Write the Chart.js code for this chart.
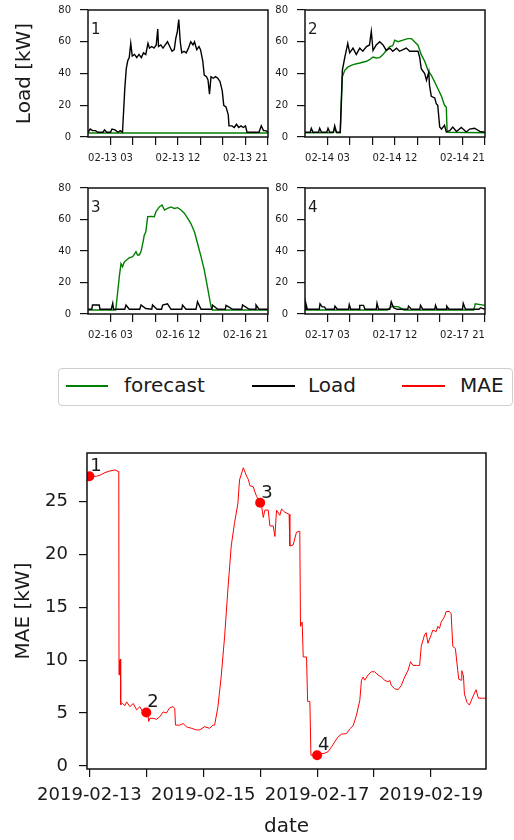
<!DOCTYPE html>
<html>
<head>
<meta charset="utf-8">
<script src="https://cdn.jsdelivr.net/npm/chart.js@4.4.0/dist/chart.umd.min.js"></script>
<style>
body{margin:0;background:#fff;font-family:'DejaVu Sans',sans-serif;}
#page{position:relative;width:514px;height:840px;overflow:hidden;background:#fff}
canvas{position:absolute}
.lg{position:absolute;font-size:20px;line-height:24px;color:#1a1a1a;white-space:nowrap}
.ln{position:absolute;height:1.5px}
#legend{position:absolute;left:58px;top:368px;width:453px;height:36px;border:1px solid #cfcfcf;border-radius:4px}
</style>
</head>
<body>
<div id="page">
<canvas id="c1" width="275" height="175" style="left:0;top:0"></canvas>
<canvas id="c2" width="244" height="175" style="left:270px;top:0"></canvas>
<canvas id="c3" width="275" height="175" style="left:0;top:176px"></canvas>
<canvas id="c4" width="244" height="175" style="left:270px;top:176px"></canvas>
<div id="legend"></div>
<div class="ln" style="left:66px;top:385px;width:42px;background:#008000"></div>
<div class="lg" style="left:124px;top:373px">forecast</div>
<div class="ln" style="left:252px;top:385px;width:43px;background:#000"></div>
<div class="lg" style="left:308px;top:373px">Load</div>
<div class="ln" style="left:402px;top:385px;width:43px;background:#ff0000"></div>
<div class="lg" style="left:460px;top:373px">MAE</div>
<canvas id="c5" width="514" height="400" style="left:0;top:440px"></canvas>
</div>
<script>
// [hour of day, kW]
var p1Load = [[0,3],[0.3,5],[0.6,4],[1.0,4],[1.3,3],[2.0,3],[2.2,4.5],[2.5,3],[3.0,3],[3.2,5],[3.6,4.5],[4.0,3],[4.3,4],[4.6,3],
  [4.9,30],[5.1,43],[5.3,48],[5.5,50],[5.7,59],[5.9,51],[6.2,52],[6.5,50],[6.8,52],[7.1,50],[7.4,53],[7.7,52],[8.0,59],[8.2,56],
  [8.5,57],[8.8,56],[9.1,58],[9.3,68],[9.4,57],[9.7,58],[10.0,56],[10.3,58],[10.6,60],[10.9,57],[11.2,54],[11.5,55],[11.7,62],
  [11.9,66],[12.1,74],[12.3,60],[12.5,53],[12.8,54],[13.1,53],[13.4,56],[13.7,60],[14.0,58],[14.2,60],[14.5,55],[14.8,57],[15.0,55],
  [15.3,48],[15.5,39],[15.8,38],[16.0,36],[16.2,27],[16.4,38],[16.7,37],[17.0,38],[17.3,37],[17.6,35],[17.9,29],[18.1,20],[18.4,19],
  [18.7,14],[18.8,7],[19.2,7],[19.5,6],[19.8,8],[20.1,6],[20.4,7],[20.7,6],[21.0,7],[21.2,3],[21.6,3],[22.0,3],[22.4,3],[22.8,3],
  [23.1,7],[23.4,4],[23.7,4],[24,3]];
var p1Fcst = [[0,2.5],[24,2.5]];

var p2Load = [[0,3],[0.7,3],[0.84,5.5],[1.07,3],[1.8,3],[1.96,5.5],[2.2,3],[2.9,3],[3.07,5.5],[3.3,3],[3.8,3],[3.96,7],[4.2,3],[4.7,3],
  [4.98,42],[5.3,50],[5.7,59],[5.96,53],[6.4,56],[6.84,52],[7.3,56],[7.7,54],[8.2,57],[8.6,58],[8.84,66.5],[9.07,54.5],[9.5,58],
  [9.96,60],[10.4,58],[10.84,54.5],[11.3,56],[11.7,54],[12.2,56],[12.6,54],[13.07,55],[13.5,56],[13.96,54],[14.4,54],[15.07,54],
  [15.3,50],[15.5,43],[15.96,40],[16.2,35.7],[16.5,41],[16.6,32.6],[16.84,25.6],[17.3,24.6],[17.5,21],[17.7,20],[17.96,6.3],[18.2,5],
  [18.6,7.4],[18.84,3.2],[19.3,4],[19.7,6.3],[20.2,3.5],[20.84,6],[21.5,3.2],[21.96,5],[22.6,5.5],[23.3,3.5],[24,3]];
var p2Fcst = [[0,2.7],[3.7,2.7],[3.96,5.5],[4.2,2.7],[4.7,2.7],[4.98,38],[5.3,42],[5.7,44],[6.4,45.6],[7.3,46.6],[8.2,47.7],[8.6,48.7],
  [9.07,50.4],[9.5,49.8],[9.96,50],[10.4,51.9],[10.84,54.6],[11.3,57],[11.7,57.5],[11.96,61],[12.4,60],[13.07,61],[13.7,62],[14.2,62],
  [14.6,60],[15.07,57.8],[15.5,51.9],[15.96,47.7],[16.4,42],[16.84,38.9],[17.3,34.6],[17.7,30.5],[18.2,25.6],[18.6,20],[18.84,18.9],
  [18.95,3],[24,2.7]];

var p3Load = [[0,3],[0.5,3],[0.6,5.7],[1.5,5.7],[1.6,3],[3.1,3],[3.3,6.8],[3.4,3],[4.9,3],[5.07,5.7],[5.5,3],[6.9,3],[7.07,5.7],[7.7,3.5],
  [8.5,3],[8.6,5.7],[9.2,3],[9.8,3],[9.96,5.7],[10.6,6.5],[11.07,3],[12.5,3],[12.6,5.7],[13.07,3],[14.4,3],[14.6,7.8],[15.07,3],
  [16.5,3],[16.6,5.7],[17.3,3],[18.3,3],[18.4,5.5],[19.3,3],[20.5,3],[20.6,5.7],[21.5,3],[22.3,3],[22.4,5.7],[22.8,3],[24,3]];
var p3Fcst = [[0,2.5],[3.7,2.5],[3.96,14],[4.2,24.8],[4.4,32],[4.6,30],[4.84,33],[5.07,34],[5.5,35.7],[5.96,36.4],[6.4,39.6],[6.6,37.5],
  [6.84,37.5],[7.07,39.6],[7.3,44.9],[7.5,50],[7.7,52],[7.96,61.8],[8.4,62],[8.84,61.8],[9.07,65],[9.5,68],[9.87,69.2],[10.2,66],
  [10.6,67],[11.07,68],[11.5,67],[11.96,67.5],[12.4,66],[12.84,64],[13.3,60.7],[13.7,57.6],[14.2,52],[14.6,44.9],[15.07,36.4],
  [15.5,28],[15.96,16.3],[16.4,4.7],[16.6,2.5],[24,2.5]];

var p4Load = [[0,3],[0.1,7],[0.3,3],[1.9,3],[2.0,6.5],[2.3,4.5],[2.6,4.5],[2.8,3],[3.9,3],[4.0,5],[4.3,3],[5.8,3],[5.9,6],[6.1,3],
  [7.2,3],[7.3,5.5],[7.8,5.5],[8.0,3],[9.5,3],[9.6,6.8],[9.8,3],[11.3,3],[11.5,7.8],[11.8,4],[12.3,3],[13.7,3],[13.8,5],[14.2,3],
  [15.3,3],[15.4,5.5],[15.7,3],[17.3,3],[17.4,5.5],[17.6,3],[18.8,3],[18.9,5],[19.2,3],[21.0,3],[21.1,6.8],[21.4,3],[23.2,3],
  [23.4,4],[24,3]];
var p4Fcst = [[0,2.5],[11.0,2.5],[11.6,5],[12.5,4.5],[13.2,2.5],[22.5,2.5],[22.7,6.5],[24,5.5]];

// [hours since 2019-02-13 00:00, MAE kW]
var maeSeries = [[-1,27.4],[0,27.4],[3,27.4],[4.5,27.5],[6.6,27.75],[8.7,27.9],[10.8,28.0],[12.2,27.85],[12.4,27.8],[12.5,8.6],
  [12.7,10.0],[13.1,10.1],[13.2,5.8],[13.9,5.9],[15.0,5.7],[15.7,6.05],[17.1,5.6],[18.5,5.9],[19.9,5.3],[21.3,5.6],[22.7,5.0],
  [24.0,5.05],[24.6,5.0],[25.0,4.2],[25.5,4.5],[26.9,4.5],[28.3,4.4],[29.7,4.65],[31.1,5.1],[32.5,5.0],[33.9,5.5],[35.3,5.6],
  [36.0,5.4],[36.3,3.85],[38.1,3.85],[39.5,4.0],[40.9,3.7],[43.0,3.55],[45.1,3.4],[46.5,3.4],[48.6,3.7],[50.7,3.55],[52.1,3.85],
  [52.8,3.85],[54.2,5.6],[55.6,8.5],[57.0,12.2],[58.4,16.7],[59.8,20.8],[61.2,23.0],[62.6,24.8],[63.3,27.05],[64.9,28.2],
  [66.3,27.4],[67.0,27.1],[67.7,26.5],[69.1,26.4],[69.8,25.9],[70.5,25.5],[71.9,24.9],[72.6,24.6],[73.3,23.5],[74.0,24.2],
  [75.4,24.2],[76.1,22.7],[77.5,22.7],[78.2,21.7],[78.9,24.2],[80.3,23.7],[81.0,24.3],[82.4,24.0],[84.2,23.8],[84.5,20.8],
  [85.9,20.9],[87.3,22.1],[88.7,22.2],[89.0,13.2],[89.7,13.6],[90.15,10.3],[91.55,10.3],[92.0,6.1],[92.95,6.1],[93.4,1.0],[96,1.0],
  [97.9,1.15],[99.3,1.2],[100.7,1.35],[102.1,1.8],[103.5,2.3],[104.9,2.75],[106.3,3.0],[108.4,3.05],[109.8,3.5],[111.2,3.8],
  [112.6,4.8],[114.0,6.2],[114.7,8.1],[115.4,8.4],[116.1,8.1],[117.5,8.6],[118.9,8.9],[120.3,8.9],[121.7,8.6],[123.1,8.4],
  [124.5,8.1],[125.9,7.95],[126.6,8.1],[127.3,7.6],[128.7,7.3],[130.1,7.2],[131.5,7.6],[132.9,8.4],[134.3,9.0],[135.4,9.85],
  [136.4,9.5],[137.8,9.5],[139.2,9.5],[139.9,11.3],[141.3,12.4],[142.0,12.6],[142.7,11.6],[144.1,12.4],[144.8,12.85],[146.2,12.7],
  [146.9,13.2],[147.6,13.0],[148.3,13.6],[149.7,14.1],[150.4,14.6],[151.8,14.6],[152.5,14.4],[153.2,11.3],[154.3,11.1],[155.3,9.0],
  [155.7,8.2],[156.7,8.1],[157.0,9.0],[157.7,8.5],[158.1,6.8],[159.2,6.0],[160.2,5.75],[161.6,6.5],[163.0,7.2],[164.0,6.4],
  [165.8,6.4],[167.2,6.4]];

var markerHours = [0, 24, 72, 96];
var markerValues = [27.4, 5.05, 24.9, 1.0];
var markerLabels = ['1', '2', '3', '4'];

var smallTickHours = [3, 6, 9, 12, 15, 18, 21, 24];
var p1TickLabels = ['02-13 03', '', '', '02-13 12', '', '', '02-13 21', ''];
var p2TickLabels = ['02-14 03', '', '', '02-14 12', '', '', '02-14 21', ''];
var p3TickLabels = ['02-16 03', '', '', '02-16 12', '', '', '02-16 21', ''];
var p4TickLabels = ['02-17 03', '', '', '02-17 12', '', '', '02-17 21', ''];
var loadYTicks = [0, 20, 40, 60, 80];

var maeTickHours = [0, 24, 48, 72, 96, 120, 144];
var maeTickLabels = ['2019-02-13', '', '2019-02-15', '', '2019-02-17', '', '2019-02-19'];
var maeYTicks = [0, 5, 10, 15, 20, 25];

Chart.defaults.font.family = "'DejaVu Sans', sans-serif";
Chart.defaults.color = '#1a1a1a';

function pts(arr) { return arr.map(function(p) { return {x: p[0], y: p[1]}; }); }

function fixY(w) {
  return function(s) { s.width = w; s.paddingTop = 0; s.paddingBottom = 0; };
}
function fixX(h) {
  return function(s) { s.height = h; s.paddingLeft = 0; s.paddingRight = 0; };
}

// axes box + panel number
var boxPlugin = {
  id: 'box',
  afterDraw: function(chart, args, opts) {
    var ctx = chart.ctx, a = chart.chartArea;
    ctx.save();
    ctx.strokeStyle = '#111';
    ctx.lineWidth = 1.5;
    ctx.strokeRect(a.left, a.top, a.right - a.left, a.bottom - a.top);
    if (opts.tag) {
      ctx.fillStyle = '#1a1a1a';
      ctx.font = "15px 'DejaVu Sans'";
      ctx.textBaseline = 'alphabetic';
      ctx.fillText(opts.tag, a.left + 3, a.top + 24);
    }
    ctx.restore();
  }
};

var markLabelPlugin = {
  id: 'markLabels',
  afterDatasetsDraw: function(chart) {
    var ctx = chart.ctx;
    var meta = chart.getDatasetMeta(0);
    ctx.save();
    ctx.fillStyle = '#1a1a1a';
    ctx.font = "18px 'DejaVu Sans'";
    ctx.textBaseline = 'alphabetic';
    meta.data.forEach(function(pt, i) { ctx.fillText(markerLabels[i], pt.x + 1, pt.y - 5); });
    ctx.restore();
  }
};

function panel(id, load, fcst, tickLabels, tag, yTitle, padTop, padRight, yWidth, xHeight) {
  new Chart(document.getElementById(id), {
    type: 'line',
    data: {
      datasets: [
        {label: 'Load', data: pts(load), borderColor: '#000', borderWidth: 1.4, pointRadius: 0, tension: 0},
        {label: 'forecast', data: pts(fcst), borderColor: '#008000', borderWidth: 1.4, pointRadius: 0, tension: 0}
      ]
    },
    options: {
      responsive: false, animation: false, devicePixelRatio: 1,
      layout: {autoPadding: false, padding: {top: padTop, right: padRight, left: 0, bottom: 0}},
      plugins: {legend: {display: false}, tooltip: {enabled: false}, box: {tag: tag}},
      scales: {
        x: {
          type: 'linear', min: 0, max: 24,
          afterBuildTicks: function(s) { s.ticks = smallTickHours.map(function(v) { return {value: v}; }); },
          afterFit: fixX(xHeight),
          ticks: {autoSkip: false, maxRotation: 0, font: {size: 10}, padding: 7,
            callback: function(v) { return tickLabels[smallTickHours.indexOf(v)]; }},
          grid: {drawOnChartArea: false, tickLength: 8, color: '#111', lineWidth: 1.2},
          border: {display: false}
        },
        y: {
          min: 0, max: 80,
          afterBuildTicks: function(s) { s.ticks = loadYTicks.map(function(v) { return {value: v}; }); },
          afterFit: fixY(yWidth),
          ticks: {font: {size: 10}, padding: 9},
          grid: {drawOnChartArea: false, tickLength: 8, color: '#111', lineWidth: 1.2},
          border: {display: false},
          title: {display: !!yTitle, text: yTitle || '', font: {size: 20}, color: '#1a1a1a', padding: {top: 13, bottom: 0}}
        }
      }
    },
    plugins: [boxPlugin]
  });
}

panel('c1', p1Load, p1Fcst, p1TickLabels, '1', 'Load [kW]', 10, 7, 88, 38);
panel('c2', p2Load, p2Fcst, p2TickLabels, '2', null, 10, 29, 35, 38);
panel('c3', p3Load, p3Fcst, p3TickLabels, '3', null, 12, 7, 88, 37);
panel('c4', p4Load, p4Fcst, p4TickLabels, '4', null, 12, 29, 35, 37);

new Chart(document.getElementById('c5'), {
  type: 'line',
  data: {
    datasets: [
      {label: 'points', data: markerHours.map(function(h, i) { return {x: h, y: markerValues[i]}; }),
        showLine: false, pointRadius: 5, pointBackgroundColor: '#ff0000', pointBorderWidth: 0, borderColor: '#ff0000'},
      {label: 'MAE', data: pts(maeSeries), borderColor: '#ff0000', borderWidth: 1, pointRadius: 0, tension: 0}
    ]
  },
  options: {
    responsive: false, animation: false, devicePixelRatio: 1,
    layout: {autoPadding: false, padding: {top: 13, right: 28, left: 0, bottom: 0}},
    plugins: {legend: {display: false}, tooltip: {enabled: false}, box: {}},
    scales: {
      x: {
        type: 'linear', min: -1, max: 167.2,
        afterBuildTicks: function(s) { s.ticks = maeTickHours.map(function(v) { return {value: v}; }); },
        afterFit: fixX(71),
        ticks: {autoSkip: false, maxRotation: 0, font: {size: 18}, padding: 8,
          callback: function(v) { return maeTickLabels[maeTickHours.indexOf(v)]; }},
        grid: {drawOnChartArea: false, tickLength: 8, color: '#111', lineWidth: 1.2},
        border: {display: false},
        title: {display: true, text: 'date', font: {size: 20}, color: '#1a1a1a', padding: {top: 0, bottom: 1}}
      },
      y: {
        min: -0.3, max: 29.6,
        afterBuildTicks: function(s) { s.ticks = maeYTicks.map(function(v) { return {value: v}; }); },
        afterFit: fixY(87),
        ticks: {font: {size: 18}, padding: 11},
        grid: {drawOnChartArea: false, tickLength: 8, color: '#111', lineWidth: 1.2},
        border: {display: false},
        title: {display: true, text: 'MAE [kW]', font: {size: 20}, color: '#1a1a1a', padding: {top: 12, bottom: 0}}
      }
    }
  },
  plugins: [boxPlugin, markLabelPlugin]
});
</script>
</body>
</html>
